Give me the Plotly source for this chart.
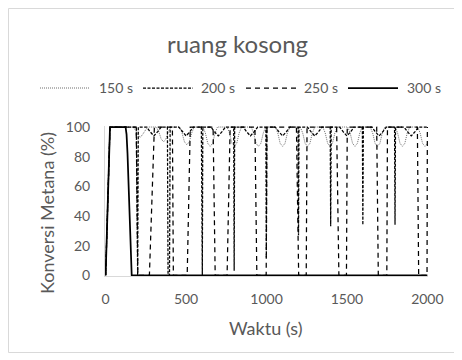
import plotly.graph_objects as go

# ---------------- data ----------------
series_names = ["150 s", "200 s", "250 s", "300 s"]

t_150 = [0, 27,
         170, 185, 200, 215, 230, 245, 260,
         315, 330, 345, 360, 375, 390, 405,
         460, 475, 490, 505, 520, 535, 550,
         605, 620, 635, 650, 665, 680, 695,
         755, 770, 785, 800, 815, 830, 845,
         905, 920, 935, 950, 965, 980, 995,
         1055, 1070, 1085, 1100, 1115, 1130, 1145,
         1210, 1225, 1240, 1255, 1270, 1285, 1300,
         1350, 1365, 1380, 1395, 1410, 1425, 1440,
         1505, 1520, 1535, 1550, 1565, 1580, 1595,
         1645, 1660, 1675, 1690, 1705, 1720, 1735,
         1800, 1815, 1830, 1845, 1860, 1875, 1890,
         1940, 1955, 1970, 1985, 2000]
y_150 = [0, 100,
         100, 98, 95, 93, 95, 98, 100,
         100, 97, 92, 90, 92, 97, 100,
         100, 96, 90, 88, 90, 96, 100,
         100, 96, 89, 87, 89, 96, 100,
         100, 96, 89, 87, 89, 96, 100,
         100, 96, 89, 87, 89, 96, 100,
         100, 96, 89, 87, 89, 96, 100,
         100, 96, 89, 87, 89, 96, 100,
         100, 96, 89, 87, 89, 96, 100,
         100, 96, 89, 87, 89, 96, 100,
         100, 96, 89, 87, 89, 96, 100,
         100, 96, 89, 87, 89, 96, 100,
         100, 96, 89, 87, 89]

t_200 = [0, 27, 191, 195, 199, 203,
         255, 275, 300, 325, 345,
         384, 388, 397, 401,
         455, 475, 500, 525, 545,
         595, 598, 601, 604,
         655, 675, 700, 725, 745,
         796, 799, 802,
         855, 875, 900, 925, 945,
         996, 999, 1002,
         1055, 1075, 1100, 1125, 1145,
         1196, 1199, 1202,
         1255, 1275, 1300, 1325, 1345,
         1396, 1399, 1402,
         1455, 1475, 1500, 1525, 1545,
         1596, 1599, 1602,
         1655, 1675, 1700, 1725, 1745,
         1796, 1799, 1802,
         1855, 1875, 1900, 1925, 1945,
         2000]
y_200 = [0, 100, 100, 0, 0, 100,
         100, 97, 94, 97, 100,
         100, 0, 0, 100,
         100, 97, 94, 97, 100,
         100, 0, 0, 100,
         100, 97, 94, 97, 100,
         100, 3, 100,
         100, 97, 94, 97, 100,
         100, 12, 100,
         100, 97, 94, 97, 100,
         100, 27, 100,
         100, 97, 94, 97, 100,
         100, 33, 100,
         100, 97, 94, 97, 100,
         100, 34, 100,
         100, 97, 94, 97, 100,
         100, 34, 100,
         100, 97, 94, 97, 100,
         100]

t_250 = [0, 27, 190, 200, 272, 303,
         415, 421, 507, 526,
         668, 681, 755, 774,
         928, 940, 998, 1003,
         1186, 1200, 1247, 1252,
         1436, 1450, 1497, 1502,
         1685, 1695, 1748, 1752,
         1938, 1946, 1998, 2000]
y_250 = [0, 100, 100, 0, 0, 100,
         100, 0, 0, 100,
         100, 0, 0, 100,
         100, 0, 0, 100,
         100, 0, 0, 100,
         100, 0, 0, 100,
         100, 0, 0, 100,
         100, 0, 0, 100]

t_300 = [0, 27, 124, 130, 136, 145, 152, 158, 162, 2000]
y_300 = [0, 100, 100, 95, 82, 55, 25, 5, 0, 0]

x_ticks = [0, 500, 1000, 1500, 2000]
y_ticks = [0, 20, 40, 60, 80, 100]

# ---------------- styling / layout ----------------
OFF = 8                      # page body margin of the browser
W, H = 462 - OFF, 360 - OFF
ML, MT = 105 - OFF, 126 - OFF
PW, PH = 323, 150
MR, MB = W - ML - PW, H - MT - PH
FONT = "Lato"
GRAY = "#595959"


def px_x(px):
    """screen pixel -> paper x"""
    return (px - OFF - ML) / PW


def px_y(py):
    """screen pixel -> paper y"""
    return (MT + PH - (py - OFF)) / PH


styles = [
    dict(color="#6e6e6e", width=1, dash="1px,1px"),
    dict(color="black", width=1.25, dash="3px,1.5px"),
    dict(color="black", width=1.25, dash="5px,4px"),
    dict(color="black", width=1.75, dash="solid"),
]
data = [(t_150, y_150), (t_200, y_200), (t_250, y_250), (t_300, y_300)]

fig = go.Figure()
for name, (xs, ys), st in zip(series_names, data, styles):
    fig.add_trace(go.Scatter(x=xs, y=ys, mode="lines", name=name,
                             line=st, showlegend=False, hoverinfo="skip"))

fig.update_layout(
    width=W, height=H,
    margin=dict(l=ML, r=MR, t=MT, b=MB, autoexpand=False),
    paper_bgcolor="white", plot_bgcolor="white",
    font=dict(family=FONT, color=GRAY, size=14),
    showlegend=False,
)
fig.update_xaxes(range=[-4, 2004], tickvals=x_ticks, ticktext=[str(v) for v in x_ticks],
                 showgrid=False, zeroline=False, showline=True, linecolor="#d9d9d9",
                 linewidth=1, ticks="", ticklabelstandoff=10,
                 tickfont=dict(size=14, color=GRAY, family=FONT))
fig.update_yaxes(range=[-0.5, 100.7], tickvals=y_ticks, ticktext=[str(v) for v in y_ticks],
                 showgrid=False, zeroline=False, showline=True, linecolor="#d9d9d9",
                 linewidth=1, ticks="", ticklabelstandoff=11,
                 tickfont=dict(size=14, color=GRAY, family=FONT))

annotations = [
    dict(text="ruang kosong", x=px_x(237), y=px_y(43), font=dict(size=24, color=GRAY, family=FONT)),
    dict(text="Waktu (s)", x=px_x(266), y=px_y(328), font=dict(size=18, color=GRAY, family=FONT)),
    dict(text="Konversi Metana (%)", x=px_x(47), y=px_y(213), textangle=-90,
         font=dict(size=18, color=GRAY, family=FONT)),
]
for a in annotations:
    a.update(xref="paper", yref="paper", showarrow=False, xanchor="center", yanchor="middle")

# legend drawn as line samples + labels
leg_y = 88
leg_lines = [(40, 90), (143, 193), (246, 297), (348, 398)]
leg_text_x = [97, 199, 302, 405]
shapes = [dict(type="rect", xref="paper", yref="paper",
               x0=px_x(8.5), x1=px_x(454.5), y0=px_y(352.5), y1=px_y(8.5),
               line=dict(color="#d9d9d9", width=1), fillcolor="rgba(0,0,0,0)", layer="below")]
for (x0, x1), tx, name, st in zip(leg_lines, leg_text_x, series_names, styles):
    shapes.append(dict(type="line", xref="paper", yref="paper",
                       x0=px_x(x0), x1=px_x(x1), y0=px_y(leg_y), y1=px_y(leg_y),
                       line=dict(color=st["color"], width=st["width"], dash=st["dash"])))
    annotations.append(dict(text=name, xref="paper", yref="paper", showarrow=False,
                            x=px_x(tx), y=px_y(leg_y), xanchor="left", yanchor="middle",
                            font=dict(size=14, color=GRAY, family=FONT)))

fig.update_layout(annotations=annotations, shapes=shapes)
fig.write_html("out.html")
